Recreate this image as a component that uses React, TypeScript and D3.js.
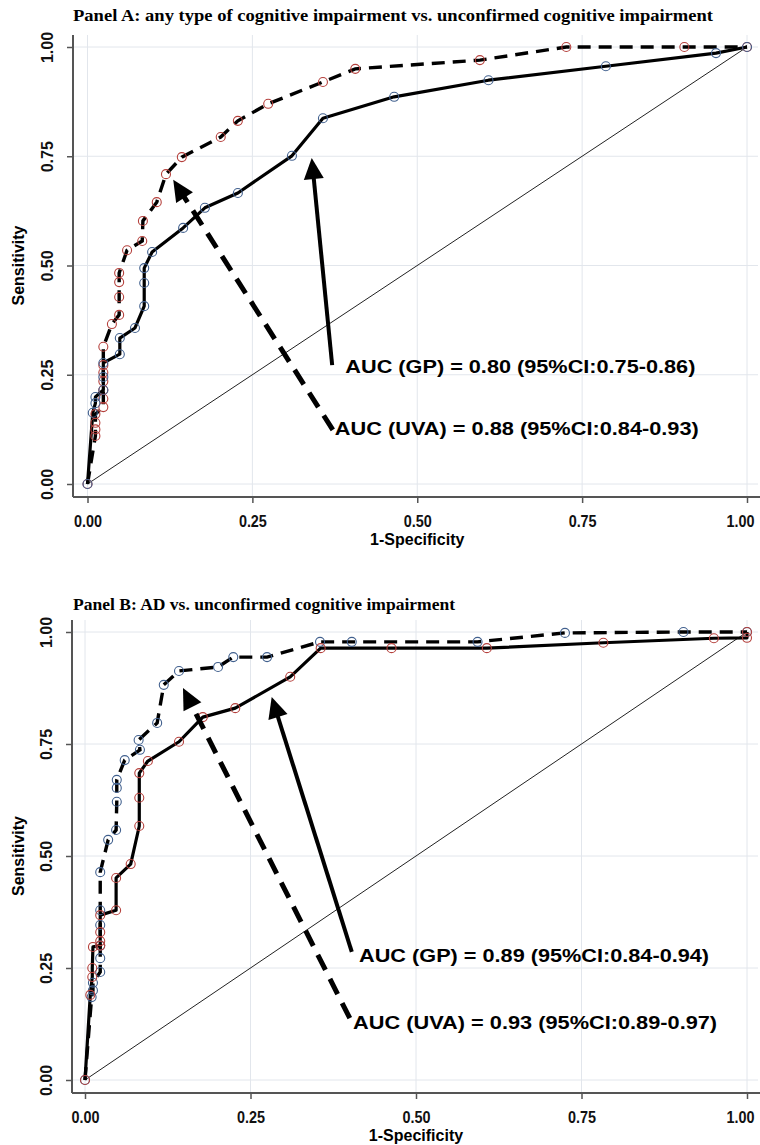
import React, { useEffect, useRef } from 'react';
import * as d3 from 'd3';

// tick values shared by both panels
const xTicks = [0, 0.25, 0.5, 0.75, 1];
const yTicks = [0, 0.25, 0.5, 0.75, 1];

// Panel A: [1-specificity, sensitivity]
const panelAGP = [
  [0, 0], [0.008, 0.163], [0.012, 0.185], [0.012, 0.199], [0.024, 0.215], [0.024, 0.245],
  [0.024, 0.277], [0.049, 0.297], [0.049, 0.334], [0.072, 0.357], [0.086, 0.407], [0.086, 0.46],
  [0.086, 0.494], [0.098, 0.531], [0.145, 0.586], [0.178, 0.632], [0.228, 0.666], [0.31, 0.751],
  [0.357, 0.837], [0.465, 0.886], [0.608, 0.924], [0.786, 0.956], [0.953, 0.986], [1, 1],
];
const panelAUVA = [
  [0, 0], [0.012, 0.11], [0.012, 0.125], [0.012, 0.14], [0.012, 0.16], [0.024, 0.176],
  [0.024, 0.195], [0.024, 0.215], [0.024, 0.235], [0.024, 0.255], [0.024, 0.272], [0.024, 0.314],
  [0.037, 0.366], [0.048, 0.387], [0.048, 0.428], [0.048, 0.462], [0.048, 0.483], [0.06, 0.535],
  [0.083, 0.556], [0.084, 0.602], [0.105, 0.645], [0.119, 0.709], [0.143, 0.748], [0.202, 0.794],
  [0.228, 0.831], [0.274, 0.87], [0.357, 0.92], [0.406, 0.95], [0.595, 0.97], [0.726, 1],
  [0.905, 1], [1, 1],
];

// Panel B
const panelBGP = [
  [0, 0], [0.008, 0.19], [0.011, 0.23], [0.011, 0.25], [0.012, 0.297], [0.023, 0.3],
  [0.023, 0.31], [0.023, 0.33], [0.023, 0.368], [0.047, 0.379], [0.047, 0.451], [0.069, 0.482],
  [0.082, 0.567], [0.082, 0.63], [0.082, 0.685], [0.095, 0.712], [0.142, 0.755], [0.178, 0.81],
  [0.227, 0.83], [0.31, 0.9], [0.356, 0.964], [0.463, 0.964], [0.607, 0.964], [0.783, 0.976],
  [0.95, 0.986], [1, 0.987], [1, 1],
];
const panelBUVA = [
  [0, 0], [0.01, 0.185], [0.012, 0.2], [0.012, 0.217], [0.023, 0.241], [0.023, 0.272],
  [0.023, 0.3], [0.023, 0.346], [0.023, 0.379], [0.023, 0.464], [0.035, 0.536], [0.047, 0.558],
  [0.048, 0.621], [0.048, 0.652], [0.048, 0.67], [0.06, 0.714], [0.083, 0.737], [0.081, 0.759],
  [0.109, 0.797], [0.119, 0.882], [0.142, 0.913], [0.201, 0.922], [0.224, 0.944], [0.275, 0.944],
  [0.355, 0.978], [0.403, 0.978], [0.593, 0.978], [0.725, 0.998], [0.904, 1], [1, 1],
];

const panelATitle = 'Panel A: any type of cognitive impairment vs. unconfirmed cognitive impairment';
const panelBTitle = 'Panel B: AD vs. unconfirmed cognitive impairment';
const panelALabels = ['AUC (GP) = 0.80 (95%CI:0.75-0.86)', 'AUC (UVA) = 0.88 (95%CI:0.84-0.93)'];
const panelBLabels = ['AUC (GP) = 0.89 (95%CI:0.84-0.94)', 'AUC (UVA) = 0.93 (95%CI:0.89-0.97)'];

const RED = '#b5403c';
const BLUE = '#41608e';
const SANS = "'Liberation Sans', Arial, sans-serif";
const SERIF = "'Liberation Serif', 'Times New Roman', serif";

const panels = [
  {
    title: panelATitle, titleY: 21, titleLen: 640,
    xr: [87.5, 747], yr: [484, 47], axisX: 73, axisY: 497,
    gp: panelAGP, uva: panelAUVA, gpColor: BLUE, uvaColor: RED,
    labels: panelALabels, labelLen: [350, 364],
    gpArrow: [[0.371, 0.272], [0.34, 0.746]],
    uvaArrow: [[0.372, 0.124], [0.13, 0.696]],
    gpText: [0.391, 0.27], uvaText: [0.375, 0.128],
  },
  {
    title: panelBTitle, titleY: 610, titleLen: 382,
    xr: [85, 747], yr: [1080, 632], axisX: 72, axisY: 1093,
    gp: panelBGP, uva: panelBUVA, gpColor: RED, uvaColor: BLUE,
    labels: panelBLabels, labelLen: [350, 364],
    gpArrow: [[0.403, 0.286], [0.282, 0.855]],
    uvaArrow: [[0.4, 0.138], [0.148, 0.875]],
    gpText: [0.414, 0.279], uvaText: [0.405, 0.129],
  },
];

const drawPanel = (svg, p) => {
  const x = d3.scaleLinear().domain([0, 1]).range(p.xr);
  const y = d3.scaleLinear().domain([0, 1]).range(p.yr);
  const g = svg.append('g');
  const top = y(1) - 12;

  // grid
  g.selectAll('.hgrid').data(yTicks).enter().append('line')
    .attr('x1', p.axisX).attr('x2', 758)
    .attr('y1', (d) => y(d)).attr('y2', (d) => y(d))
    .attr('stroke', '#e2e6ec').attr('stroke-width', 1);
  g.selectAll('.vgrid').data(xTicks).enter().append('line')
    .attr('x1', (d) => x(d)).attr('x2', (d) => x(d))
    .attr('y1', top).attr('y2', p.axisY)
    .attr('stroke', '#e2e6ec').attr('stroke-width', 1);

  // chance diagonal
  g.append('line')
    .attr('x1', x(0)).attr('y1', y(0)).attr('x2', x(1)).attr('y2', y(1))
    .attr('stroke', '#222').attr('stroke-width', 1);

  const line = d3.line().x((d) => x(d[0])).y((d) => y(d[1]));

  g.append('path').datum(p.uva).attr('d', line)
    .attr('fill', 'none').attr('stroke', '#000').attr('stroke-width', 3.4)
    .attr('stroke-dasharray', '13,8');
  g.append('path').datum(p.gp).attr('d', line)
    .attr('fill', 'none').attr('stroke', '#000').attr('stroke-width', 3.2)
    .attr('stroke-linejoin', 'round');

  g.selectAll('.uvaPt').data(p.uva).enter().append('circle')
    .attr('cx', (d) => x(d[0])).attr('cy', (d) => y(d[1])).attr('r', 4.5)
    .attr('fill', 'none').attr('stroke', p.uvaColor).attr('stroke-width', 1.1);
  g.selectAll('.gpPt').data(p.gp).enter().append('circle')
    .attr('cx', (d) => x(d[0])).attr('cy', (d) => y(d[1])).attr('r', 4.5)
    .attr('fill', 'none').attr('stroke', p.gpColor).attr('stroke-width', 1.1);

  // arrows
  const arrow = (from, to, dashed) => {
    const fx = x(from[0]), fy = y(from[1]);
    const tx = x(to[0]), ty = y(to[1]);
    const a = Math.atan2(ty - fy, tx - fx);
    const headLen = 21, headW = 10;
    const bx = tx - headLen * Math.cos(a), by = ty - headLen * Math.sin(a);
    g.append('line')
      .attr('x1', fx).attr('y1', fy).attr('x2', bx + 2 * Math.cos(a)).attr('y2', by + 2 * Math.sin(a))
      .attr('stroke', '#000').attr('stroke-width', dashed ? 5 : 4)
      .attr('stroke-dasharray', dashed ? '17,10' : null);
    g.append('polygon')
      .attr('points', [
        [tx, ty],
        [bx + headW * Math.sin(a), by - headW * Math.cos(a)],
        [bx - headW * Math.sin(a), by + headW * Math.cos(a)],
      ].map((pt) => pt.join(',')).join(' '))
      .attr('fill', '#000');
  };
  arrow(p.gpArrow[0], p.gpArrow[1], false);
  arrow(p.uvaArrow[0], p.uvaArrow[1], true);

  // AUC labels
  [p.gpText, p.uvaText].forEach((pos, i) => {
    g.append('text')
      .attr('x', x(pos[0])).attr('y', y(pos[1])).attr('dy', '0.35em')
      .attr('font-family', SANS).attr('font-weight', 'bold').attr('font-size', 19)
      .attr('textLength', p.labelLen[i]).attr('lengthAdjust', 'spacingAndGlyphs')
      .text(p.labels[i]);
  });

  // axes
  const yAxis = g.append('g')
    .attr('transform', `translate(${p.axisX},0)`)
    .call(d3.axisLeft(y).tickValues(yTicks).tickSize(6).tickFormat(d3.format('.2f')));
  yAxis.select('.domain').remove();
  yAxis.selectAll('line').attr('stroke', '#555').attr('stroke-width', 1.5);
  yAxis.selectAll('text')
    .attr('x', 0).attr('dy', '0.35em').attr('text-anchor', 'middle')
    .attr('transform', 'translate(-26,0) rotate(-90)')
    .attr('font-family', SANS).attr('font-weight', 'bold').attr('font-size', 16).attr('fill', '#111');

  const xAxis = g.append('g')
    .attr('transform', `translate(0,${p.axisY})`)
    .call(d3.axisBottom(x).tickValues(xTicks).tickSize(6).tickFormat(d3.format('.2f')));
  xAxis.select('.domain').remove();
  xAxis.selectAll('line').attr('stroke', '#555').attr('stroke-width', 1.5);
  xAxis.selectAll('text')
    .attr('y', 24).attr('dy', '0.35em')
    .attr('dx', (d) => (d === 1 ? -7 : 0))
    .attr('textLength', 28).attr('lengthAdjust', 'spacingAndGlyphs')
    .attr('font-family', SANS).attr('font-weight', 'bold').attr('font-size', 16).attr('fill', '#111');

  g.append('line')
    .attr('x1', p.axisX).attr('x2', p.axisX).attr('y1', top).attr('y2', p.axisY)
    .attr('stroke', '#555').attr('stroke-width', 2);
  g.append('line')
    .attr('x1', p.axisX).attr('x2', 760).attr('y1', p.axisY).attr('y2', p.axisY)
    .attr('stroke', '#555').attr('stroke-width', 2);

  g.append('text')
    .attr('x', x(0.5)).attr('y', y(0) + 55).attr('dy', '0.35em')
    .attr('text-anchor', 'middle')
    .attr('font-family', SANS).attr('font-weight', 'bold').attr('font-size', 16)
    .text('1-Specificity');

  g.append('text')
    .attr('transform', `translate(18,${y(0.5)}) rotate(-90)`)
    .attr('dy', '0.35em').attr('text-anchor', 'middle')
    .attr('font-family', SANS).attr('font-weight', 'bold').attr('font-size', 16)
    .text('Sensitivity');

  g.append('text')
    .attr('x', 73).attr('y', p.titleY)
    .attr('font-family', SERIF).attr('font-weight', 'bold').attr('font-size', 16)
    .attr('textLength', p.titleLen).attr('lengthAdjust', 'spacingAndGlyphs')
    .text(p.title);
};

const App = () => {
  const svgRef = useRef(null);

  useEffect(() => {
    document.body.style.margin = '0';
    const svg = d3.select(svgRef.current);
    svg.selectAll('*').remove();
    panels.forEach((p) => drawPanel(svg, p));
  }, []);

  return (
    <svg ref={svgRef} width={760} height={1145} style={{ display: 'block', background: '#fff' }} />
  );
};

export default App;
